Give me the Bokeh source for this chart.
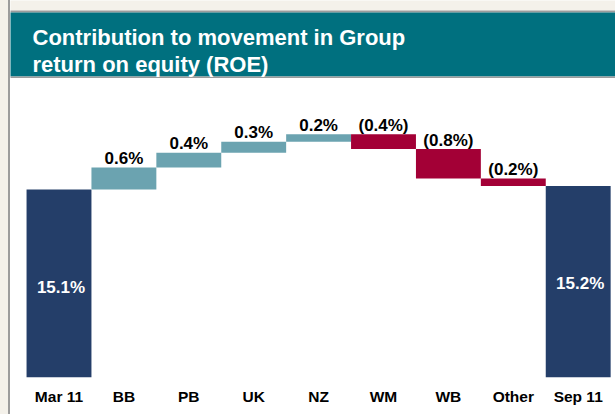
from bokeh.plotting import figure
from bokeh.models import FixedTicker, BoxAnnotation, Label, ColumnDataSource
from bokeh.core.properties import value
from bokeh.embed import file_html
from bokeh.resources import INLINE

# ---- data ----
categories = ["Mar 11", "BB", "PB", "UK", "NZ", "WM", "WB", "Other", "Sep 11"]
start_roe = 15.1
end_roe = 15.2
contributions = [0.6, 0.4, 0.3, 0.2, -0.4, -0.8, -0.2]
start_label = "15.1%"
end_label = "15.2%"
contribution_labels = ["0.6%", "0.4%", "0.3%", "0.2%", "(0.4%)", "(0.8%)", "(0.2%)"]
title_lines = ["Contribution to movement in Group", "return on equity (ROE)"]

# ---- layout / style ----
W, H = 605, 414
FRAME_H = 377
PXY = 36.85            # pixels per 1 percentage point
Y_START = 10.0
Y_END = Y_START + FRAME_H / PXY
CAT_W = 64.9           # pixels per category
X_START = -48.5 / CAT_W
X_END = X_START + W / CAT_W

FONT = "Liberation Sans"
NAVY = "#243E69"
UP = "#6BA3B0"
DOWN = "#A30036"
HEADER = "#00707F"
GREY = "#9C9C9C"
BEIGE = "#F4F1EA"


def fx(px):
    return X_START + px / CAT_W


def fy(py):
    return Y_END - py / PXY


p = figure(width=W, height=H, output_backend="svg", toolbar_location=None,
           x_range=(X_START, X_END), y_range=(Y_START, Y_END),
           min_border_left=0, min_border_right=0, min_border_top=0,
           min_border_bottom=H - FRAME_H, y_axis_location=None)
p.outline_line_color = None
p.background_fill_color = "white"
p.border_fill_color = "white"
p.xgrid.visible = False
p.ygrid.visible = False

# ---- waterfall geometry ----
n = len(categories)
xs = list(range(n))
bottoms, tops, colors = [], [], []
bottoms.append(Y_START); tops.append(start_roe); colors.append(NAVY)
run = start_roe
for c in contributions:
    lo, hi = (run, run + c) if c >= 0 else (run + c, run)
    bottoms.append(lo); tops.append(hi)
    colors.append(UP if c >= 0 else DOWN)
    run += c
bottoms.append(Y_START); tops.append(end_roe); colors.append(NAVY)

src = ColumnDataSource(dict(x=xs, bottom=bottoms, top=tops, color=colors))
p.vbar(x="x", width=1.0, bottom="bottom", top="top", fill_color="color",
       line_color=None, source=src)

# contribution labels above each floating bar
lab_src = ColumnDataSource(dict(
    x=xs[1:-1],
    y=[t + 9 / PXY for t in tops[1:-1]],
    text=contribution_labels))
p.text(x="x", y="y", text="text", source=lab_src, text_align="center",
       text_baseline="alphabetic", text_font=value(FONT), text_font_style="bold",
       text_font_size="17px", text_color="black")

# total labels inside bars
tot_src = ColumnDataSource(dict(
    x=[xs[0], xs[-1]],
    y=[start_roe - 2.65, end_roe - 2.65],
    text=[start_label, end_label]))
p.text(x="x", y="y", text="text", source=tot_src, text_align="center",
       text_baseline="middle", x_offset=2, text_font=value(FONT), text_font_style="bold",
       text_font_size="17px", text_color="white")

# ---- header band ----
p.add_layout(BoxAnnotation(left=X_START - 1, right=X_END + 1, bottom=fy(10), top=Y_END + 1,
                           fill_color=BEIGE, fill_alpha=1, line_color=None))
p.add_layout(BoxAnnotation(left=X_START - 1, right=X_END + 1, bottom=fy(12), top=fy(10),
                           fill_color=GREY, fill_alpha=1, line_color=None))
p.add_layout(BoxAnnotation(left=X_START - 1, right=X_END + 1, bottom=fy(76), top=fy(12),
                           fill_color=HEADER, fill_alpha=1, line_color=None))
p.add_layout(BoxAnnotation(left=X_START - 1, right=X_END + 1, bottom=fy(77.5), top=fy(76),
                           fill_color=GREY, fill_alpha=1, line_color=None))

for i, line in enumerate(title_lines):
    p.add_layout(Label(x=fx(22), y=fy(37 + 27 * i), text=line, text_color="white",
                       text_font=FONT, text_font_style="bold", text_font_size="22px",
                       text_baseline="alphabetic", text_align="left"))

# ---- x axis ----
p.xaxis.ticker = FixedTicker(ticks=xs)
p.xaxis.major_label_overrides = {i: c for i, c in enumerate(categories)}
p.xaxis.axis_line_color = None
p.xaxis.major_tick_line_color = None
p.xaxis.major_tick_in = 0
p.xaxis.major_tick_out = 0
p.xaxis.minor_tick_line_color = None
p.xaxis.major_label_standoff = 10
p.xaxis.major_label_text_font = FONT
p.xaxis.major_label_text_font_style = "bold"
p.xaxis.major_label_text_font_size = "15.5px"
p.xaxis.major_label_text_color = "black"

html = file_html(p, INLINE)
css = ("<style>html, body { margin: 0 !important; padding: 0 !important; } "
       "body { padding-left: 10px !important; "
       "background: linear-gradient(to right, %s 0px, %s 8px, %s 8px, %s 10px, #ffffff 10px) !important; }"
       "</style></head>") % (BEIGE, BEIGE, GREY, GREY)
html = html.replace("</head>", css, 1)
open("out.html", "w").write(html)
